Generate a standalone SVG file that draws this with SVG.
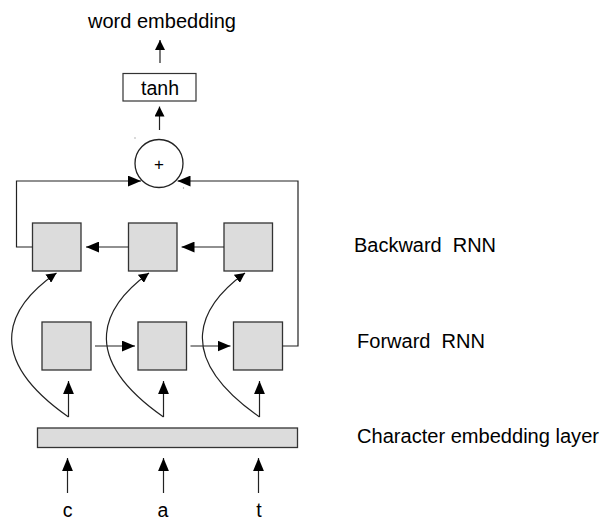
<svg xmlns="http://www.w3.org/2000/svg" width="602" height="521" viewBox="0 0 602 521">
  <style>
    .lbl { font-family: "Liberation Sans", Arial, sans-serif; font-size: 19.5px; fill: #000; white-space: pre; }
    .cell { fill: #dcdcdc; stroke: #333; stroke-width: 1.3; }
    .edge { fill: none; stroke: #222; stroke-width: 1.2; }
    .box { fill: #fff; stroke: #333; stroke-width: 1.2; }
  </style>
  <defs>
    <marker id="arr" viewBox="0 0 10 10" refX="10" refY="5" markerWidth="10" markerHeight="10" markerUnits="userSpaceOnUse" orient="auto">
      <path d="M0,0 L10,5 L0,10 z" fill="#000"/>
    </marker>
    <marker id="arrBig" viewBox="0 0 12 10" refX="12" refY="5" markerWidth="13" markerHeight="11" markerUnits="userSpaceOnUse" orient="auto">
      <path d="M0,0 L12,5 L0,10 z" fill="#000"/>
    </marker>
  </defs>

  <!-- output stack -->
  <text class="lbl" x="88" y="28" textLength="148" lengthAdjust="spacingAndGlyphs">word embedding</text>
  <g id="tanh">
    <rect class="box" x="123" y="73.5" width="73" height="27.5"/>
    <text class="lbl" x="141" y="94.5" textLength="38" lengthAdjust="spacingAndGlyphs">tanh</text>
  </g>
  <g id="sum">
    <circle cx="159" cy="163.5" r="24" fill="#fff" stroke="#222" stroke-width="1.3"/>
    <text x="159" y="169.5" text-anchor="middle" style="font-family:'Liberation Sans',Arial,sans-serif;font-size:17px;fill:#000">+</text>
    <circle cx="135" cy="138" r="0.7" fill="#999"/>
    <circle cx="183.5" cy="188" r="0.7" fill="#999"/>
  </g>

  <!-- backward RNN cells -->
  <g id="bwd1"><rect class="cell" x="32.5" y="223" width="48.5" height="48"/></g>
  <g id="bwd2"><rect class="cell" x="128.5" y="223" width="48.5" height="48"/></g>
  <g id="bwd3"><rect class="cell" x="224" y="223" width="48.5" height="48"/></g>

  <!-- forward RNN cells -->
  <g id="fwd1"><rect class="cell" x="42" y="322" width="49" height="48"/></g>
  <g id="fwd2"><rect class="cell" x="138" y="322" width="48.5" height="48"/></g>
  <g id="fwd3"><rect class="cell" x="233.5" y="322" width="49" height="48"/></g>

  <!-- character embedding layer -->
  <g id="embed"><rect class="cell" x="37.5" y="428" width="260" height="19.5"/></g>

  <!-- side labels -->
  <text class="lbl" x="354" y="252" textLength="142" lengthAdjust="spacingAndGlyphs">Backward  RNN</text>
  <text class="lbl" x="357" y="348" textLength="128" lengthAdjust="spacingAndGlyphs">Forward  RNN</text>
  <text class="lbl" x="357" y="443" textLength="242" lengthAdjust="spacingAndGlyphs">Character embedding layer</text>

  <!-- input characters -->
  <text class="lbl" x="67.5" y="517" text-anchor="middle">c</text>
  <text class="lbl" x="163" y="517" text-anchor="middle">a</text>
  <text class="lbl" x="259" y="517" text-anchor="middle">t</text>

  <g id="connectors">
    <!-- top -->
    <line class="edge" x1="160" y1="63" x2="160" y2="40" marker-end="url(#arr)"/>
    <line class="edge" x1="159.5" y1="130" x2="159.5" y2="106.5" marker-end="url(#arr)"/>
    <!-- final states into sum -->
    <polyline class="edge" points="32.5,247 16.5,247 16.5,181 141,181" marker-end="url(#arrBig)"/>
    <polyline class="edge" points="282.5,346 298,346 298,181 177.5,181" marker-end="url(#arrBig)"/>
    <!-- backward recurrence -->
    <line class="edge" x1="128.5" y1="247" x2="86" y2="247" marker-end="url(#arrBig)"/>
    <line class="edge" x1="224" y1="247" x2="181.5" y2="247" marker-end="url(#arrBig)"/>
    <!-- forward recurrence -->
    <line class="edge" x1="95" y1="346" x2="135" y2="346" marker-end="url(#arrBig)"/>
    <line class="edge" x1="190.5" y1="346" x2="230.5" y2="346" marker-end="url(#arrBig)"/>
    <!-- embeddings into forward cells -->
    <line class="edge" x1="68.5" y1="417" x2="68.5" y2="381" marker-end="url(#arrBig)"/>
    <line class="edge" x1="163.5" y1="417" x2="163.5" y2="381" marker-end="url(#arrBig)"/>
    <line class="edge" x1="259.5" y1="417" x2="259.5" y2="381" marker-end="url(#arrBig)"/>
    <!-- embeddings into backward cells -->
    <path class="edge" d="M68.5,417 C-20,355 10,305 56.5,273" marker-end="url(#arr)"/>
    <path class="edge" d="M163.5,417 C75,355 105,305 149,273" marker-end="url(#arr)"/>
    <path class="edge" d="M259.5,417 C171,355 201,305 245,273" marker-end="url(#arr)"/>
    <!-- characters into embedding layer -->
    <line class="edge" x1="67.5" y1="493" x2="67.5" y2="458" marker-end="url(#arrBig)"/>
    <line class="edge" x1="163.5" y1="493" x2="163.5" y2="458" marker-end="url(#arrBig)"/>
    <line class="edge" x1="258.5" y1="493" x2="258.5" y2="458" marker-end="url(#arrBig)"/>
  </g>
</svg>
